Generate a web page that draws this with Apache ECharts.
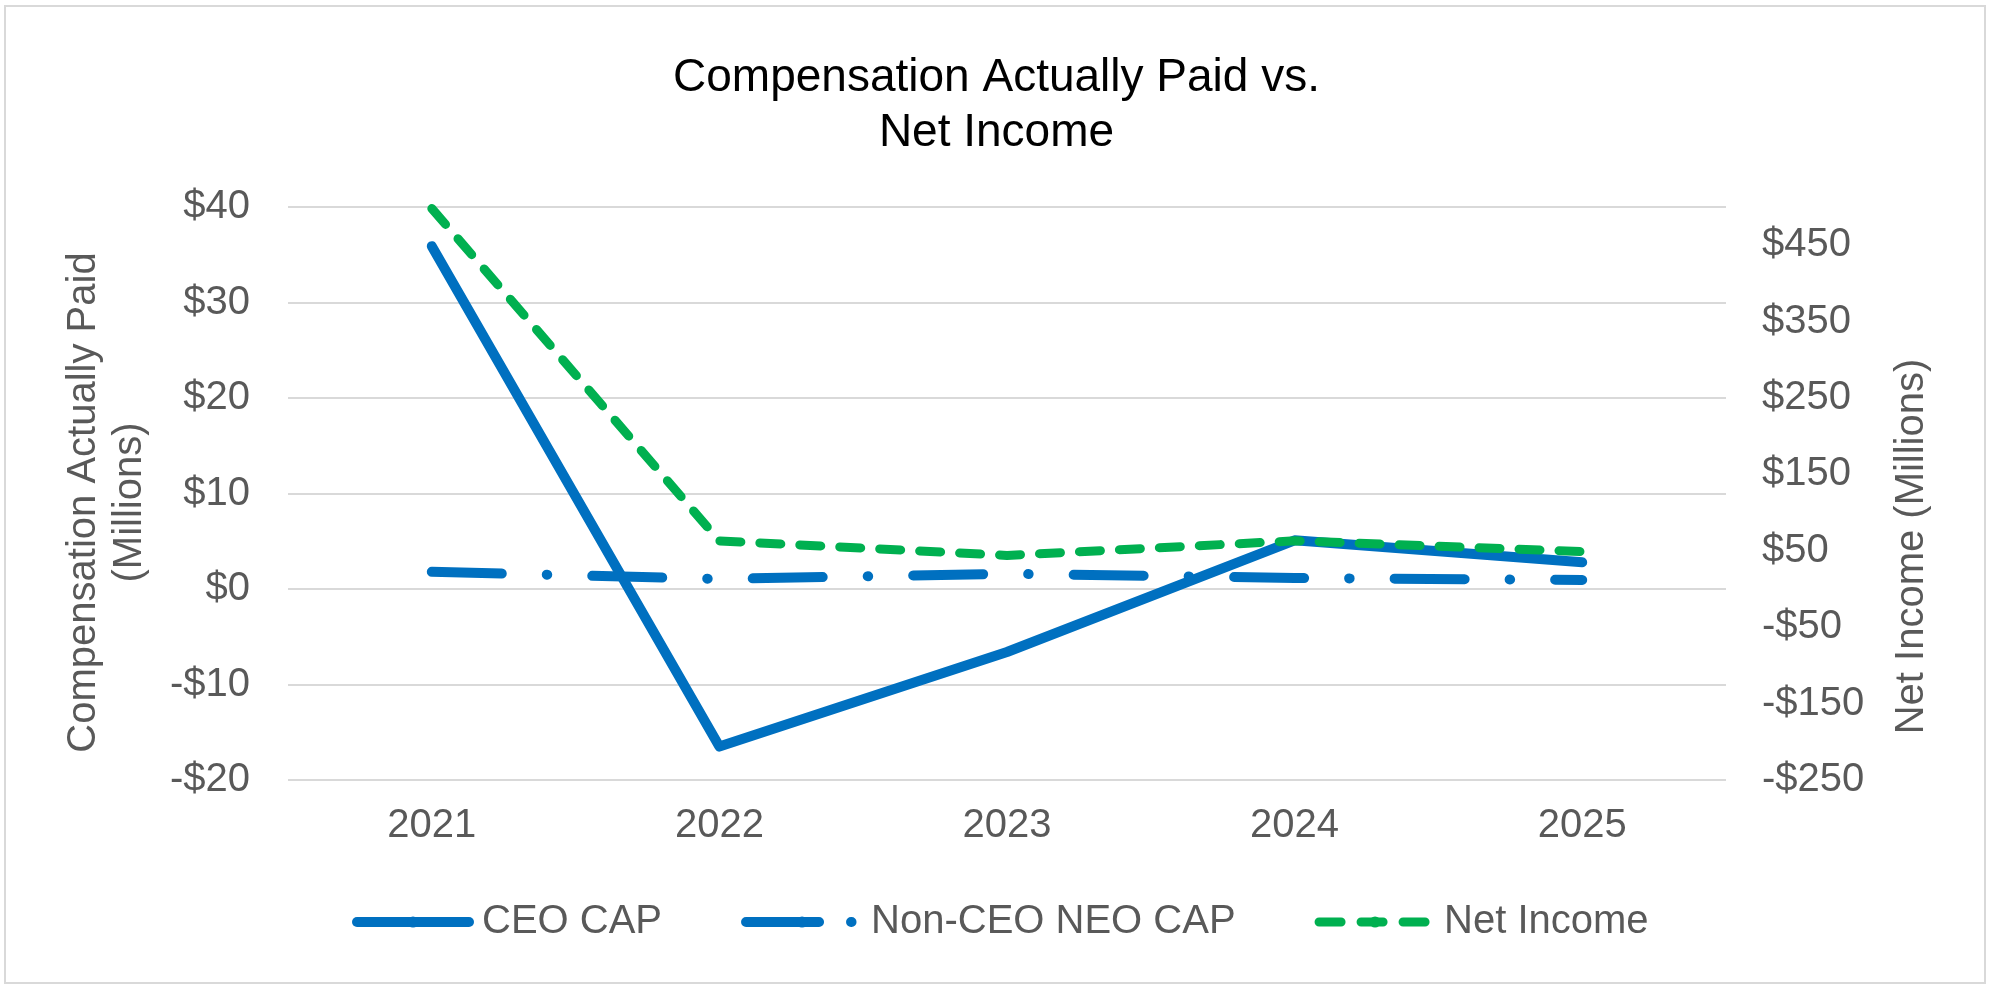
<!DOCTYPE html>
<html>
<head>
<meta charset="utf-8">
<script src="https://cdn.jsdelivr.net/npm/echarts@6/dist/echarts.min.js"></script>
<style>html,body{margin:0;padding:0;background:#fff;}#c{width:1993px;height:990px;}</style>
</head>
<body>
<div id="c"></div>
<script>
const years = ['2021', '2022', '2023', '2024', '2025'];
const ceoCap = [35.9, -16.5, -6.6, 5.1, 2.8];
const nonCeoCap = [1.8, 1.05, 1.6, 1.15, 0.95];
const netIncome = [498, 63, 44, 63, 49];
const leftTicks = [-20, -10, 0, 10, 20, 30, 40];
const rightTicks = [-250, -150, -50, 50, 150, 250, 350, 450];

const FONT = '"Liberation Sans", Arial, sans-serif';
const GREY = '#595959';
const fmt = v => (v < 0 ? '-$' + Math.abs(v) : '$' + v);

const chart = echarts.init(document.getElementById('c'));
chart.setOption({
  backgroundColor: '#fff',
  animation: false,
  textStyle: { fontFamily: FONT },
  graphic: [{
    type: 'rect', silent: true,
    shape: { x: 5, y: 6, width: 1980, height: 977 },
    style: { fill: 'none', stroke: '#D9D9D9', lineWidth: 2 }
  }],
  title: {
    text: 'Compensation Actually Paid vs.\nNet Income',
    left: 'center', top: 46,
    textStyle: { fontFamily: FONT, fontSize: 46, fontWeight: 'normal', color: '#000', lineHeight: 55 }
  },
  legend: {
    left: 347, top: 897,
    itemWidth: 112, itemHeight: 14, itemGap: 79,
    icon: 'inherit',
    lineStyle: { cap: 'round' },
    textStyle: { fontFamily: FONT, fontSize: 40, color: GREY, padding: [0, 0, 0, 8] },
    data: [
      { name: 'CEO CAP', icon: 'inherit', lineStyle: { width: 10, cap: 'round' } },
      { name: 'Non-CEO NEO CAP', icon: 'inherit', lineStyle: { width: 10, cap: 'round', type: [73, 32, 0.5, 40] } },
      { name: 'Net Income', icon: 'inherit', lineStyle: { width: 9, cap: 'round', type: [22, 20] } }
    ]
  },
  grid: { left: 288, right: 267, top: 207, bottom: 210 },
  xAxis: {
    type: 'category', data: years, boundaryGap: true,
    axisLine: { show: false }, axisTick: { show: false },
    axisLabel: { fontFamily: FONT, fontSize: 40, color: GREY, margin: 26 }
  },
  yAxis: [{
    type: 'value', min: -20, max: 40, interval: 10,
    name: 'Compensation Actually Paid\n(Millions)',
    nameLocation: 'middle', nameRotate: 90, nameGap: 135,
    nameTextStyle: { fontFamily: FONT, fontSize: 40, color: GREY, lineHeight: 46, padding: [0, 18, 0, 0] },
    axisLine: { show: false }, axisTick: { show: false },
    axisLabel: { fontFamily: FONT, fontSize: 40, color: GREY, margin: 38, formatter: fmt, customValues: leftTicks },
    splitLine: { lineStyle: { color: '#D9D9D9', width: 2 } }
  }, {
    type: 'value', min: -250, max: 500, position: 'right',
    name: 'Net Income (Millions)',
    nameLocation: 'middle', nameRotate: 90, nameGap: 166,
    nameTextStyle: { fontFamily: FONT, fontSize: 40, color: GREY, padding: [0, 106, 0, 0] },
    axisLine: { show: false }, axisTick: { show: false },
    axisLabel: { fontFamily: FONT, fontSize: 40, color: GREY, margin: 36, formatter: fmt, customValues: rightTicks },
    splitLine: { show: false }
  }],
  series: [{
    name: 'CEO CAP', type: 'line', yAxisIndex: 0, data: ceoCap,
    symbol: 'none', color: '#0070C0',
    lineStyle: { color: '#0070C0', width: 10, cap: 'round', join: 'round' }
  }, {
    name: 'Non-CEO NEO CAP', type: 'line', yAxisIndex: 0, data: nonCeoCap,
    symbol: 'none', color: '#0070C0',
    lineStyle: { color: '#0070C0', width: 10, cap: 'round', join: 'round', type: [70, 45, 0.5, 45] }
  }, {
    name: 'Net Income', type: 'line', yAxisIndex: 1, data: netIncome,
    symbol: 'none', color: '#00B050',
    lineStyle: { color: '#00B050', width: 9, cap: 'round', join: 'round', type: [21, 19] }
  }]
});
</script>
</body>
</html>
